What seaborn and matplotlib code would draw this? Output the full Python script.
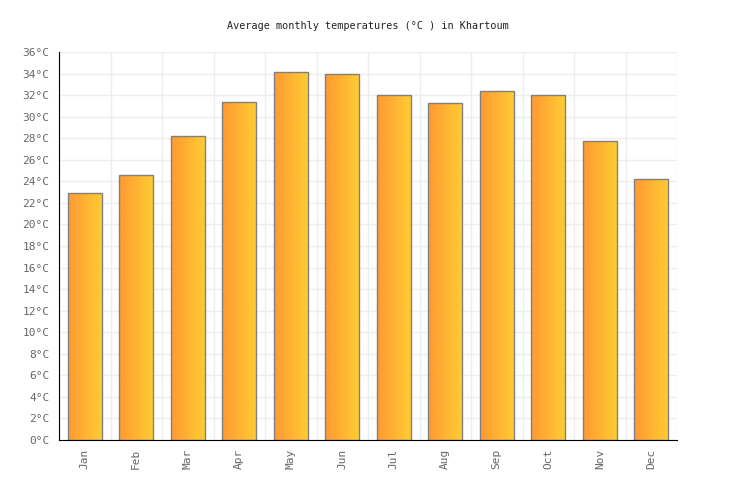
import numpy as np
import pandas as pd
import matplotlib
matplotlib.use("Agg")
import matplotlib.pyplot as plt
from matplotlib.colors import LinearSegmentedColormap
import seaborn as sns

# ---------------------------
# Data
# ---------------------------

months = ["Jan", "Feb", "Mar", "Apr", "May", "Jun",
          "Jul", "Aug", "Sep", "Oct", "Nov", "Dec"]
temps = [22.9, 24.6, 28.2, 31.4, 34.1, 34.0,
         32.0, 31.3, 32.4, 32.0, 27.7, 24.2]
y_ticks = list(range(0, 37, 2))
y_labels = [f"{t}°C" for t in y_ticks]
title = "Average monthly temperatures (°C ) in Khartoum"

df = pd.DataFrame({"month": months, "temp": temps})

# ---------------------------
# Plot
# ---------------------------

sns.set_style("white")
plt.rcParams['font.family'] = ['DejaVu Sans Mono', 'DejaVu Sans']

fig = plt.figure(figsize=(7.36, 5.0), dpi=100)
ax = fig.add_axes([59 / 736, 60 / 500, 618 / 736, 388 / 500])

sns.barplot(data=df, x="month", y="temp", ax=ax, width=0.66,
            color="#ffb333", edgecolor="#808080", linewidth=1.0,
            zorder=3)

# gradient fill (orange -> yellow) inside each bar
grad = LinearSegmentedColormap.from_list("oy", ["#ff9933", "#ffcc33"])
gimg = np.linspace(0, 1, 256).reshape(1, -1)
for p in ax.patches:
    x0, y0 = p.get_x(), p.get_y()
    w, h = p.get_width(), p.get_height()
    im = ax.imshow(gimg, cmap=grad, aspect="auto",
                   extent=[x0, x0 + w, y0, y0 + h], zorder=3.5)
    im.set_clip_path(p)
    p.set_facecolor("none")
    p.set_zorder(4)

ax.set_xlim(-0.5, len(months) - 0.5)
ax.set_ylim(0, 36)
ax.set_yticks(y_ticks)
ax.set_yticklabels(y_labels)

# grid: horizontal at every tick, vertical at category boundaries
for t in y_ticks:
    ax.axhline(t, color="#eeeeee", linewidth=1, zorder=1)
for b in np.arange(-0.5, len(months), 1.0):
    ax.axvline(b, color="#eeeeee", linewidth=1, zorder=1)

for side in ["top", "right"]:
    ax.spines[side].set_visible(False)
ax.spines["left"].set_color("black")
ax.spines["bottom"].set_color("black")
ax.spines["left"].set_zorder(5)
ax.spines["bottom"].set_zorder(5)

ax.tick_params(axis="y", length=0, pad=7, labelsize=8, labelcolor="#666666")
ax.tick_params(axis="x", length=0, pad=6, labelsize=8, labelcolor="#666666",
               labelrotation=90)
ax.set_xlabel("")
ax.set_ylabel("")

fig.text(0.5, 1 - 26 / 500, title, ha="center", va="center",
         fontsize=7.3, color="#222222")

plt.savefig("out.png", dpi=100)
